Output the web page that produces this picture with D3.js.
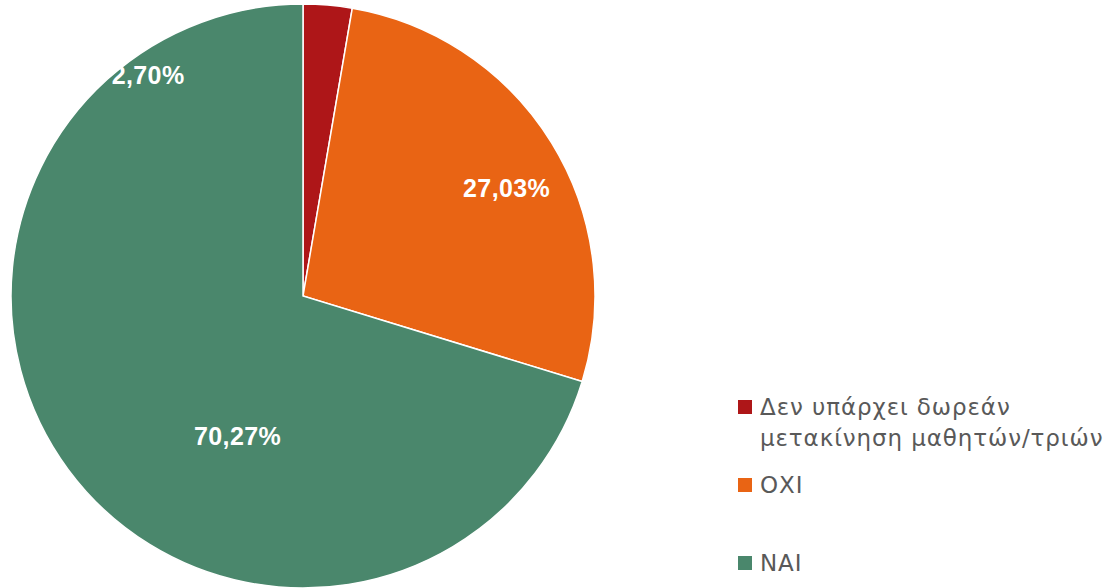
<!DOCTYPE html>
<html>
<head>
<meta charset="utf-8">
<script src="https://cdn.jsdelivr.net/npm/d3@7"></script>
<style>
  body { margin: 0; background: #fff; }
</style>
</head>
<body>
<div id="chart"></div>
<script>
"use strict"

const categories = ["Δεν υπάρχει δωρεάν μετακίνηση μαθητών/τριών", "ΟΧΙ", "ΝΑΙ"];
const values = [2.70, 27.03, 70.27];
const labels = ["2,70%", "27,03%", "70,27%"];
const colors = ["#AE1618", "#E96414", "#4A876C"];
// label placement: angle in degrees clockwise from top, radius fraction
const labelAngle = [325, 62, 205];
const labelRadius = [0.925, 0.79, 0.53];
const legendLines = [["Δεν υπάρχει δωρεάν", "μετακίνηση μαθητών/τριών"], ["ΟΧΙ"], ["ΝΑΙ"]];

let width = 1111, height = 588;
let cx = 303, cy = 296, radius = 292;

let svg = d3.select("#chart")
            .append("svg")
            .attr("width", width)
            .attr("height", height);

let g = svg.append("g")
           .attr("transform", "translate(" + cx + "," + cy + ")");

let pie = d3.pie().sort(null).value(function(d) { return d; });
let arc = d3.arc().innerRadius(0).outerRadius(radius);

let arcs = pie(values);

g.selectAll("path")
  .data(arcs)
  .enter()
  .append("path")
  .attr("d", arc)
  .style("fill", function(d, i) { return colors[i]; })
  .style("stroke", "#fff")
  .style("stroke-width", 1.5);

g.selectAll("text.lbl")
  .data(arcs)
  .enter()
  .append("text")
  .attr("class", "lbl")
  .attr("x", function(d, i) { return Math.sin(labelAngle[i] * Math.PI / 180) * radius * labelRadius[i]; })
  .attr("y", function(d, i) { return -Math.cos(labelAngle[i] * Math.PI / 180) * radius * labelRadius[i]; })
  .attr("dy", "0.36em")
  .attr("text-anchor", "middle")
  .style("font-family", "'Liberation Sans', Arial, sans-serif")
  .style("font-weight", "bold")
  .style("font-size", "25px")
  .style("letter-spacing", "0.4px")
  .style("fill", "#fff")
  .text(function(d, i) { return labels[i]; });

let legendY = d3.scalePoint()
  .domain(categories)
  .range([407, 563]);

let legend = svg.append("g")
  .attr("transform", "translate(738,0)");

let item = legend.selectAll("g")
  .data(categories)
  .enter()
  .append("g")
  .attr("transform", function(d) { return "translate(0," + legendY(d) + ")"; });

item.append("rect")
  .attr("x", 0)
  .attr("y", -7)
  .attr("width", 14)
  .attr("height", 14)
  .style("fill", function(d, i) { return colors[i]; });

item.each(function(d, i) {
  let t = d3.select(this).append("text")
    .attr("x", 22)
    .attr("y", 0)
    .style("font-family", "'DejaVu Sans', sans-serif")
    .style("font-size", "23px")
    .style("letter-spacing", "0.9px")
    .style("fill", "#595959");
  legendLines[i].forEach(function(line, j) {
    t.append("tspan")
      .attr("x", 22)
      .attr("dy", j == 0 ? "0.36em" : "31px")
      .text(line);
  });
});
</script>
</body>
</html>
